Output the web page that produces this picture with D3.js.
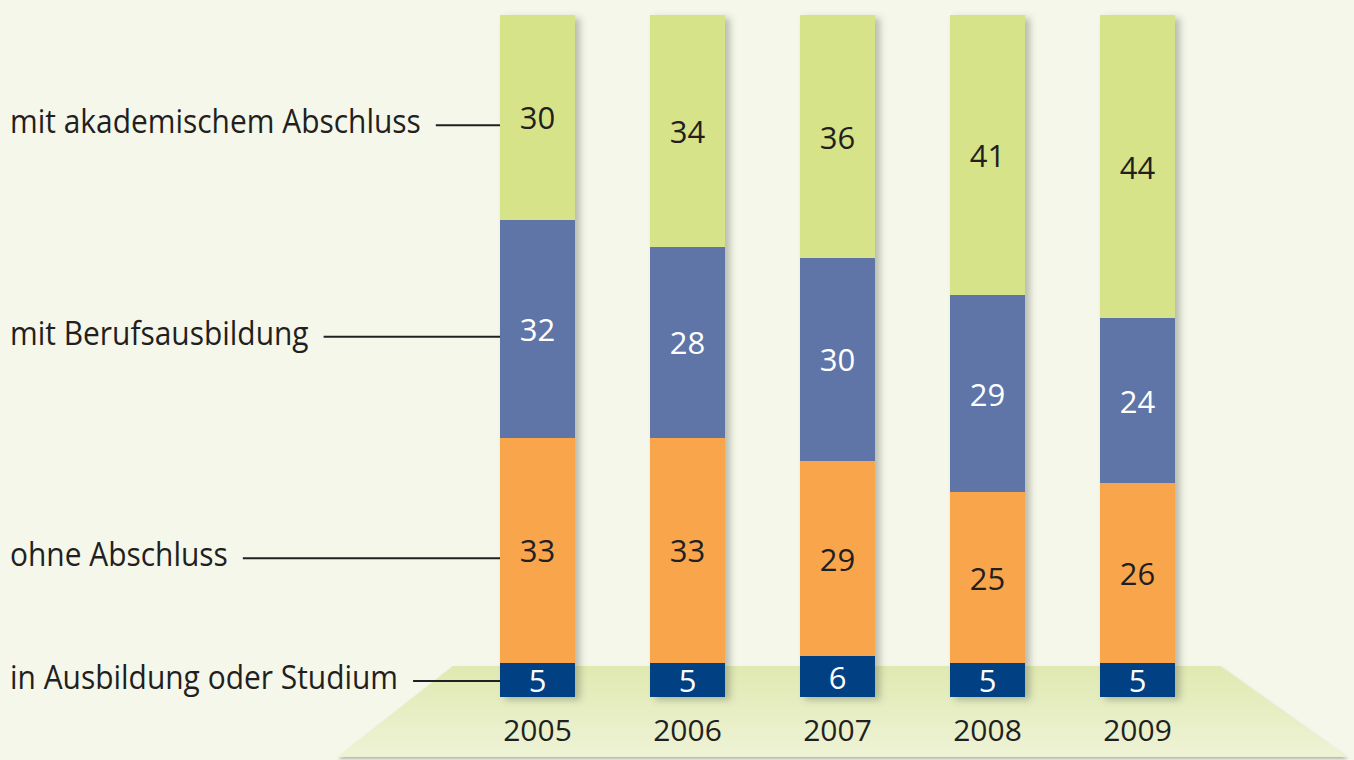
<!DOCTYPE html>
<html>
<head>
<meta charset="utf-8">
<script src="https://cdn.jsdelivr.net/npm/d3@7"></script>
<style>
  html, body { margin: 0; padding: 0; background: #f5f7ea; }
  svg { display: block; }
</style>
</head>
<body>
<svg id="chart" width="1354" height="760"></svg>
<script>
// ---- data ----
const years = ["2005", "2006", "2007", "2008", "2009"];
const categories = ["in Ausbildung oder Studium", "ohne Abschluss", "mit Berufsausbildung", "mit akademischem Abschluss"];
const inAusbildung = [5, 5, 6, 5, 5];
const ohneAbschluss = [33, 33, 29, 25, 26];
const mitBerufsausbildung = [32, 28, 30, 29, 24];
const mitAkademischem = [30, 34, 36, 41, 44];

const seriesValues = [inAusbildung, ohneAbschluss, mitBerufsausbildung, mitAkademischem];
const colors = ["#023f83", "#f9a54b", "#5e75a8", "#d7e388"];
const labelColors = ["#ffffff", "#231f20", "#ffffff", "#231f20"];
const labelWeights = [500, 400, 500, 400];

// build table
const table = years.map((yr, i) => {
  const row = { year: yr };
  categories.forEach((c, k) => row[c] = seriesValues[k][i]);
  return row;
});

const svg = d3.select("#chart");
const W = 1354, H = 760;
const font = "'Open Sans', 'DejaVu Sans', sans-serif";

const defs = svg.append("defs");
const grad = defs.append("linearGradient").attr("id", "floorGrad")
  .attr("x1", 0).attr("y1", 0).attr("x2", 0).attr("y2", 1);
grad.append("stop").attr("offset", "0%").attr("stop-color", "#e0e9b1");
grad.append("stop").attr("offset", "100%").attr("stop-color", "#eef3d6");

const sh = defs.append("filter").attr("id", "shadow")
  .attr("x", "-20%").attr("y", "-5%").attr("width", "160%").attr("height", "115%");
sh.append("feDropShadow").attr("dx", 5).attr("dy", 3).attr("stdDeviation", 3.5)
  .attr("flood-color", "#4a4f3a").attr("flood-opacity", 0.35);

const fsh = defs.append("filter").attr("id", "floorShadow")
  .attr("x", "-5%").attr("y", "-5%").attr("width", "110%").attr("height", "115%");
fsh.append("feDropShadow").attr("dx", 1).attr("dy", 2).attr("stdDeviation", 1.5)
  .attr("flood-color", "#8a8a80").attr("flood-opacity", 0.6);

// background
svg.append("rect").attr("width", W).attr("height", H).attr("fill", "#f5f7ea");

// floor (decorative platform)
svg.append("path")
  .attr("d", "M453,666 L1220,666 L1347,757 L337,757 Z")
  .attr("fill", "url(#floorGrad)")
  .attr("filter", "url(#floorShadow)");

// scales
const x = d3.scaleBand().domain(years).range([462.5, 1212.5]).paddingInner(0.5).paddingOuter(0.25);
const y = d3.scaleLinear().domain([0, 1]).range([697, 15]);

const stack = d3.stack().keys(categories).offset(d3.stackOffsetExpand);
const series = stack(table);

const gBars = svg.append("g");
const groups = gBars.selectAll("g.bar")
  .data(years)
  .join("g")
  .attr("class", "bar")
  .attr("filter", "url(#shadow)");

groups.each(function(yr, i) {
  const g = d3.select(this);
  series.forEach((s, k) => {
    const d = s[i];
    g.append("rect")
      .attr("x", x(yr))
      .attr("width", x.bandwidth())
      .attr("y", y(d[1]))
      .attr("height", y(d[0]) - y(d[1]))
      .attr("fill", colors[k])
      .attr("shape-rendering", "crispEdges");
  });
});

// value labels
series.forEach((s, k) => {
  svg.append("g").selectAll("text")
    .data(s)
    .join("text")
    .attr("x", d => x(d.data.year) + x.bandwidth() / 2)
    .attr("y", d => (y(d[0]) + y(d[1])) / 2 + 12)
    .attr("text-anchor", "middle")
    .attr("font-family", font)
    .attr("font-size", 31)
    .attr("font-weight", labelWeights[k])
    .attr("fill", labelColors[k])
    .text(d => d.data[s.key]);
});

// year labels
svg.append("g").selectAll("text")
  .data(years)
  .join("text")
  .attr("x", d => x(d) + x.bandwidth() / 2)
  .attr("y", 741)
  .attr("text-anchor", "middle")
  .attr("font-family", font)
  .attr("font-size", 30)
  .attr("fill", "#231f20")
  .text(d => d);

// category labels with leader lines (anchored to first bar)
const first = 0;
const barBottom = y(0);
const squeeze = 0.935;
series.forEach((s, k) => {
  const d = s[first];
  const center = (y(d[0]) + y(d[1])) / 2;
  const lineY = Math.min(center + 8, barBottom - 16);
  const t = svg.append("text")
    .attr("x", 10)
    .attr("y", lineY + 8)
    .attr("font-family", font)
    .attr("font-size", 32)
    .attr("fill", "#231f20")
    .text(s.key);
  const len = t.node().getComputedTextLength();
  t.attr("textLength", len * squeeze).attr("lengthAdjust", "spacingAndGlyphs");
  const end = 10 + len * squeeze;
  svg.append("line")
    .attr("x1", end + 15).attr("x2", x(years[first]))
    .attr("y1", lineY).attr("y2", lineY)
    .attr("stroke", "#231f20").attr("stroke-width", 2);
});
</script>
</body>
</html>
